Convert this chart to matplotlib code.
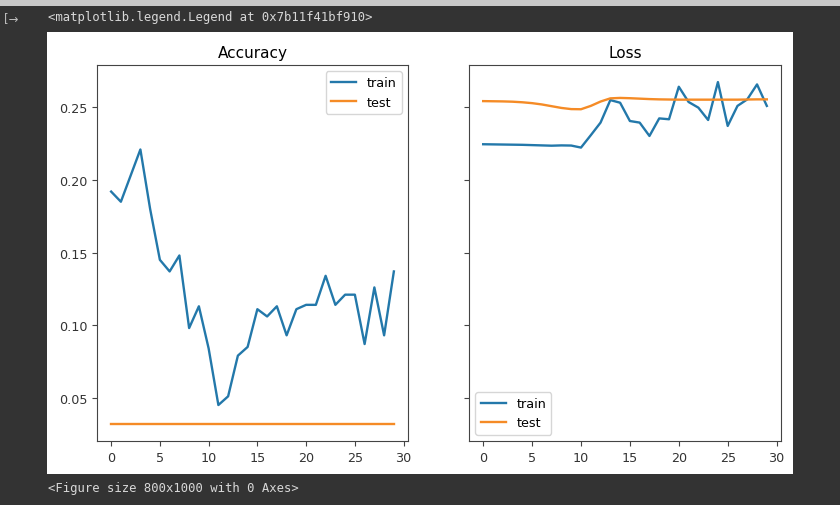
import matplotlib
matplotlib.use('Agg')
import matplotlib.pyplot as plt
from matplotlib.patches import Rectangle

epochs = list(range(30))

acc_train = [0.192, 0.185, 0.203, 0.221, 0.180, 0.145, 0.137, 0.148, 0.098, 0.113,
             0.084, 0.045, 0.051, 0.079, 0.085, 0.111, 0.106, 0.113, 0.093, 0.111,
             0.114, 0.114, 0.134, 0.114, 0.121, 0.121, 0.087, 0.126, 0.093, 0.137]
acc_test = [0.032] * 30

loss_train = [0.2246, 0.2245, 0.2244, 0.2243, 0.2242, 0.2240, 0.2238, 0.2236, 0.2238, 0.2237,
              0.2223, 0.2308, 0.2395, 0.2550, 0.2532, 0.2406, 0.2395, 0.2303, 0.2424, 0.2418,
              0.2642, 0.2537, 0.2498, 0.2413, 0.2674, 0.2372, 0.2510, 0.2555, 0.2658, 0.2510]
loss_test = [0.2543, 0.2542, 0.2541, 0.2539, 0.2535, 0.2529, 0.2520, 0.2508, 0.2496, 0.2488,
             0.2487, 0.2510, 0.2540, 0.2562, 0.2565, 0.2563, 0.2560, 0.2557, 0.2555, 0.2554,
             0.2553, 0.2553, 0.2553, 0.2553, 0.2553, 0.2553, 0.2553, 0.2554, 0.2555, 0.2555]

train_color = '#2378aa'
test_color = '#f58b26'

plt.rcParams['font.size'] = 9.2
plt.rcParams['axes.titlesize'] = 11
plt.rcParams['axes.edgecolor'] = '#444444'
plt.rcParams['xtick.color'] = '#444444'
plt.rcParams['ytick.color'] = '#444444'
plt.rcParams['xtick.labelcolor'] = '#333333'
plt.rcParams['ytick.labelcolor'] = '#333333'
plt.rcParams['lines.linewidth'] = 1.7

W, H = 840, 506
fig = plt.figure(figsize=(8.4, 5.06), dpi=100, facecolor='#333333')

# screenshot chrome: light strip on top, white figure area
fig.patches.append(Rectangle((0, 1 - 7 / H), 1, 7 / H, transform=fig.transFigure,
                             facecolor='#c8c8c8', edgecolor='none', zorder=-10))
fig.patches.append(Rectangle((47 / W, 1 - 475 / H), (793 - 47) / W, (475 - 33) / H,
                             transform=fig.transFigure, facecolor='white',
                             edgecolor='none', zorder=-10))

fig.text(4 / W, 1 - 19 / H, '[→', color='#bbbbbb', fontsize=8.5, va='center')
fig.text(48 / W, 1 - 18 / H, '<matplotlib.legend.Legend at 0x7b11f41bf910>',
         family='DejaVu Sans Mono', color='#d8d8d8', fontsize=8.8, va='center')
fig.text(48 / W, 1 - 489 / H, '<Figure size 800x1000 with 0 Axes>',
         family='DejaVu Sans Mono', color='#d8d8d8', fontsize=8.8, va='center')

ax1 = fig.add_axes([97 / W, 1 - 442 / H, 311 / W, 376 / H])
ax2 = fig.add_axes([469 / W, 1 - 442 / H, 312 / W, 376 / H], sharey=ax1)

ax1.plot(epochs, acc_train, color=train_color, label='train')
ax1.plot(epochs, acc_test, color=test_color, label='test')
ax1.set_title('Accuracy')
ax1.legend(loc='upper right')

ax2.plot(epochs, loss_train, color=train_color, label='train')
ax2.plot(epochs, loss_test, color=test_color, label='test')
ax2.set_title('Loss')
ax2.legend(loc='lower left')
ax2.tick_params(labelleft=False)

ax1.set_yticks([0.05, 0.10, 0.15, 0.20, 0.25])
for ax in (ax1, ax2):
    ax.set_xticks([0, 5, 10, 15, 20, 25, 30])

fig.savefig('out.png', dpi=100, facecolor=fig.get_facecolor())
